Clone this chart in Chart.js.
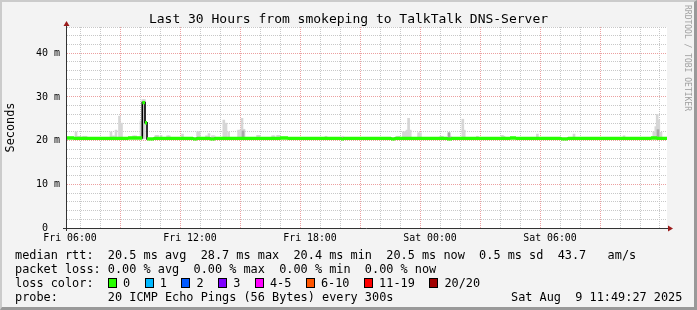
<!DOCTYPE html>
<html>
<head>
<meta charset="utf-8">
<title>smokeping - TalkTalk DNS-Server</title>
<script src="https://cdn.jsdelivr.net/npm/chart.js@4.4.0/dist/chart.umd.min.js"></script>
<style>
  html, body { margin: 0; padding: 0; background: #f3f3f3; }
  #wrap { position: relative; width: 697px; height: 310px; background: #f3f3f3; overflow: hidden;
          font-family: "DejaVu Sans Mono", monospace; color: #000; }
  #frame { position: absolute; left: 0; top: 0; width: 697px; height: 310px; box-sizing: border-box;
           border-style: solid; border-width: 2px 3px 3px 2px; border-color: #cbcbcb #999 #999 #cbcbcb; }
  #c { position: absolute; left: 0; top: 0; }
  #title { position: absolute; left: 0; top: 11px; width: 697px; text-align: center;
           font-size: 13px; line-height: 16px; white-space: pre; }
  .row { position: absolute; left: 15px; font-size: 11.86px; line-height: 14px; white-space: pre; }
  #loss { position: absolute; left: 108px; top: 276px; display: flex; align-items: center;
          font-size: 11.86px; line-height: 14px; white-space: pre; }
  .item { display: flex; align-items: center; margin-right: 14.6px; }
  .box { width: 7px; height: 8px; border: 1px solid #000; margin-right: 6px; }
  #mark { position: absolute; left: 691px; top: 5px; font-size: 8px; line-height: 8px; color: #a0a0a0;
          white-space: pre; transform: rotate(90deg); transform-origin: left top; }
</style>
</head>
<body>
<div id="wrap">
  <div id="frame"></div>
  <canvas id="c" width="697" height="310"></canvas>
  <div id="title">Last 30 Hours from smokeping to TalkTalk DNS-Server</div>
  <div class="row" style="top:248px">median rtt:  20.5 ms avg  28.7 ms max  20.4 ms min  20.5 ms now  0.5 ms sd  43.7   am/s</div>
  <div class="row" style="top:262px">packet loss: 0.00 % avg  0.00 % max  0.00 % min  0.00 % now</div>
  <div class="row" style="top:276px">loss color:</div>
  <div id="loss"></div>
  <div class="row" style="top:290px">probe:       20 ICMP Echo Pings (56 Bytes) every 300s</div>
  <div class="row" style="top:290px; left:511px">Sat Aug  9 11:49:27 2025</div>
  <div id="mark">RRDTOOL / TOBI OETIKER</div>
</div>
<script>
// time axis: hours since Fri 00:00
const xMin = 5.85, xMax = 35.85;
const yMax = 46;

// median rtt (ms): start of each run and its value
const medianStart = [5.85, 6.2, 8.9, 9.615, 9.75, 9.85, 10.2, 12.15, 12.35, 13.0, 13.25, 16.5, 16.9,
                     19.55, 19.7, 22.05, 22.25, 24.85, 25.1, 28.0, 28.3, 30.55, 30.9, 35.05, 35.35];
const medianValue = [20.6, 20.5, 20.6, 28.7, 24.1, 20.4, 20.5, 20.4, 20.5, 20.4, 20.5, 20.6, 20.5,
                     20.4, 20.5, 20.4, 20.5, 20.4, 20.5, 20.6, 20.5, 20.4, 20.5, 20.6, 20.5];

// smoke (ping spread above the median), ms
const smokeTime = [6.30, 6.40, 6.50, 6.68, 6.80, 8.05, 8.175, 8.30, 8.475, 8.575, 9.18, 9.28, 9.55, 9.64, 9.72,
                   10.30, 10.38, 10.55, 10.88, 10.96, 11.625, 12.38, 12.46, 12.825, 12.95, 13.12, 13.20,
                   13.69, 13.80, 13.93, 14.43, 14.52, 14.60, 14.70, 15.38, 15.46, 16.13, 16.20, 16.38, 16.46,
                   18.80, 19.63, 22.37, 22.45, 22.67, 22.75, 22.85, 22.93, 23.01, 23.43, 23.52, 24.54, 24.62,
                   24.95, 25.03, 25.64, 25.71, 26.37, 27.62, 27.70, 29.37, 31.20, 33.70,
                   35.19, 35.29, 35.36, 35.44, 35.55];
const smokeTop  = [22.0, 21.0, 21.0, 21.0, 21.0, 22.0, 21.1, 22.4, 25.6, 24.0, 21.1, 21.1, 24.5, 29.4, 29.4,
                   21.2, 21.2, 21.2, 21.1, 21.1, 21.5, 22.0, 22.0, 21.1, 21.6, 21.1, 21.1,
                   24.7, 24.0, 22.0, 22.4, 22.4, 25.1, 22.6, 21.2, 21.2, 21.1, 21.1, 21.2, 21.2,
                   21.0, 21.0, 21.0, 21.0, 22.0, 22.0, 22.4, 25.1, 22.4, 21.8, 21.8, 21.0, 21.0,
                   21.8, 21.0, 24.9, 22.4, 21.0, 21.2, 21.0, 21.5, 21.5, 21.1,
                   22.0, 23.2, 26.0, 24.7, 21.9];
// darker core of the smoke
const darkTime = [14.65, 24.95, 35.40];
const darkTop  = [22.2, 21.8, 22.5];

// hour ticks (grid every hour, label every 6)
const hourTicks = [6, 7, 8, 9, 10, 11, 12, 13, 14, 15, 16, 17, 18, 19, 20, 21, 22, 23,
                   24, 25, 26, 27, 28, 29, 30, 31, 32, 33, 34, 35];

// loss colour legend
const lossLabels = ['0', '1', '2', '3', '4-5', '6-10', '11-19', '20/20'];
const lossColors = ['#26ff00', '#00b8ff', '#0059ff', '#7e00ff', '#ff00ff', '#ff5500', '#ff0000', '#a10000'];

const FONT = '"DejaVu Sans Mono", monospace';
const GRID = '#c8c8c8';
const MGRID = '#eca0a0';

// legend boxes
const lossDiv = document.getElementById('loss');
lossLabels.forEach((lab, i) => {
    const item = document.createElement('span');
    item.className = 'item';
    item.innerHTML = '<span class="box" style="background:' + lossColors[i] + '"></span><span>' + lab + '</span>';
    lossDiv.appendChild(item);
});

// median as separate horizontal pieces (green) + thin black stepped line
const greenSegs = [];
medianStart.forEach((s, i) => {
    const e = i + 1 < medianStart.length ? medianStart[i + 1] : xMax;
    greenSegs.push({x: s, y: medianValue[i]}, {x: e, y: medianValue[i]}, {x: e, y: null});
});
const blackLine = medianStart.map((s, i) => ({x: s, y: medianValue[i]}));
blackLine.push({x: xMax, y: medianValue[medianValue.length - 1]});

const frame = {
    id: 'frame',
    beforeDraw(chart) {
        const {ctx, chartArea: a} = chart;
        ctx.save();
        ctx.fillStyle = '#fff';
        ctx.fillRect(a.left, a.top, a.right - a.left, a.bottom - a.top);
        ctx.restore();
    },
    afterDraw(chart) {
        const {ctx, chartArea: a} = chart;
        ctx.save();
        ctx.strokeStyle = '#333';
        ctx.lineWidth = 1;
        ctx.beginPath();
        ctx.moveTo(a.left - 0.5, a.bottom + 3);
        ctx.lineTo(a.left - 0.5, a.top - 4);
        ctx.moveTo(a.left - 4, a.bottom + 0.5);
        ctx.lineTo(a.right + 3, a.bottom + 0.5);
        ctx.stroke();
        ctx.fillStyle = '#9b1c1c';
        ctx.beginPath();
        ctx.moveTo(a.left - 0.5, a.top - 6);
        ctx.lineTo(a.left - 3.5, a.top - 1);
        ctx.lineTo(a.left + 2.5, a.top - 1);
        ctx.fill();
        ctx.beginPath();
        ctx.moveTo(a.right + 6, a.bottom + 0.5);
        ctx.lineTo(a.right + 1, a.bottom - 2.5);
        ctx.lineTo(a.right + 1, a.bottom + 3.5);
        ctx.fill();
        ctx.restore();
    }
};

new Chart(document.getElementById('c'), {
    type: 'line',
    data: {
        datasets: [
            {
                data: greenSegs,
                borderColor: '#26ff00',
                borderWidth: 3.4,
                borderCapStyle: 'butt',
                pointRadius: 0,
                spanGaps: false,
                order: 0
            },
            {
                data: blackLine,
                borderColor: '#000',
                borderWidth: 1.6,
                stepped: true,
                pointRadius: 0,
                order: 1
            },
            {
                type: 'bar',
                data: darkTime.map((t, i) => ({x: t, y: [20.4, darkTop[i]]})),
                backgroundColor: '#a8a8a8',
                barThickness: 2,
                grouped: false,
                order: 2
            },
            {
                type: 'bar',
                data: smokeTime.map((t, i) => ({x: t, y: [20.4, smokeTop[i]]})),
                backgroundColor: '#d6d6d6',
                barThickness: 2,
                grouped: false,
                order: 3
            }
        ]
    },
    options: {
        responsive: false,
        animation: false,
        events: [],
        layout: { padding: { top: 27, right: 30, left: 0, bottom: 0 } },
        plugins: {
            legend: { display: false },
            tooltip: { enabled: false },
            title: { display: false }
        },
        scales: {
            x: {
                type: 'linear',
                min: xMin,
                max: xMax,
                offset: false,
                border: { display: false, dash: [1, 1] },
                grid: {
                    drawTicks: false,
                    color: c => (c.tick && c.tick.value % 3 === 0) ? MGRID : GRID
                },
                ticks: {
                    autoSkip: false,
                    maxRotation: 0,
                    padding: 4,
                    color: '#000',
                    font: { family: FONT, size: 9.9 },
                    callback: v => {
                        if (v % 6 !== 0) return '';
                        const day = v < 24 ? 'Fri' : 'Sat';
                        return day + ' ' + String(v % 24).padStart(2, '0') + ':00';
                    }
                },
                afterBuildTicks: s => { s.ticks = hourTicks.map(v => ({value: v})); },
                afterFit: s => { s.height = 82; }
            },
            y: {
                min: 0,
                max: yMax,
                border: { display: false, dash: [1, 1] },
                grid: {
                    drawTicks: false,
                    color: c => (c.tick && c.tick.value % 10 === 0) ? MGRID : GRID
                },
                ticks: {
                    stepSize: 2,
                    autoSkip: false,
                    padding: 7,
                    color: '#000',
                    font: { family: FONT, size: 10 },
                    callback: v => v % 10 !== 0 ? '' : (v === 0 ? '0  ' : v + ' m')
                },
                title: {
                    display: true,
                    text: 'Seconds',
                    color: '#000',
                    font: { family: FONT, size: 11.86 },
                    padding: { top: 4, bottom: 0 }
                },
                afterFit: s => { s.width = 67; }
            }
        }
    },
    plugins: [frame]
});
</script>
</body>
</html>
